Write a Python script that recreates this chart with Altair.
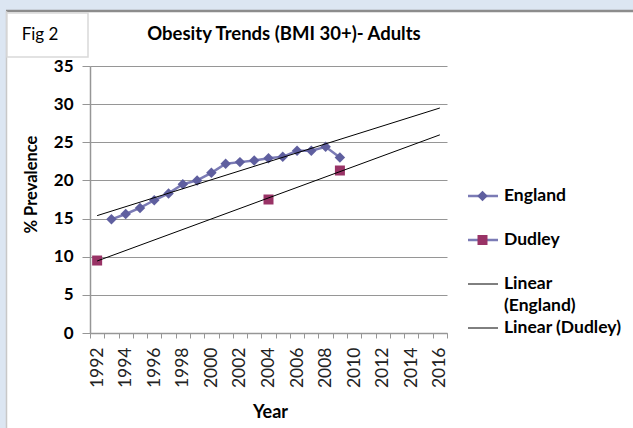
import altair as alt
import pandas as pd

# ---- data ----
eng_years = list(range(1993, 2010))
eng_values = [14.9, 15.6, 16.4, 17.4, 18.3, 19.5, 20.0, 21.0, 22.2, 22.4,
              22.6, 22.9, 23.1, 23.9, 23.9, 24.4, 23.0]
dud_years = [1992, 2004, 2009]
dud_values = [9.5, 17.5, 21.3]
trend_extent = [1992, 2016]
y_ticks = [0, 5, 10, 15, 20, 25, 30, 35]
x_bounds = [y - 0.5 for y in range(1992, 2018)]  # category boundaries

title_text = "Obesity Trends (BMI 30+)- Adults"
fig_text = "Fig 2"
legend_labels = ["England", "Dudley", "Linear", "(England)", "Linear (Dudley)"]

eng_df = pd.DataFrame({"year": eng_years, "value": eng_values})
dud_df = pd.DataFrame({"year": dud_years, "value": dud_values})
one = pd.DataFrame({"a": [0]})

FONT = "Lato"
GRID = "#969696"
ENG_LINE = "#7b7bb5"
ENG_PT = "#5f5f9f"
DUD = "#993366"
W, H = 357, 267
BAND = W / 25

x_scale = alt.Scale(domain=[1991.5, 2016.5], nice=False, zero=False)
y_scale = alt.Scale(domain=[0, 35], nice=False, zero=True)

x_axis = alt.Axis(
    values=x_bounds,
    labelExpr="(datum.value + 0.5) % 2 == 0 ? '' + (datum.value + 0.5) : ''",
    labelAngle=270, labelOffset=BAND / 2, labelFont=FONT, labelFontSize=17.5,
    labelColor="#222222", labelPadding=9, labelOverlap=False, labelFlush=False,
    tickSize=5, tickColor=GRID, tickWidth=1, domainColor=GRID, domainWidth=1.5,
    grid=False, title="Year", titleFont=FONT, titleFontSize=18,
    titleFontWeight="bold", titleColor="black", titleX=180, titleY=79,
    titleAlign="center", titleBaseline="middle",
)
y_axis = alt.Axis(
    values=y_ticks, grid=True, gridColor=GRID, gridWidth=1,
    tickSize=8, tickColor=GRID, domainColor=GRID, domainWidth=1.5,
    labelFont=FONT, labelFontSize=17, labelFontWeight="bold", labelColor="black",
    labelPadding=9, title="% Prevalence", titleFont=FONT, titleFontSize=16.5,
    titleFontWeight="bold", titleColor="black", titleX=-59, titleY=118,
    titleAngle=270, titleAlign="center", titleBaseline="middle",
)

X = alt.X("year:Q", scale=x_scale, axis=x_axis)
Y = alt.Y("value:Q", scale=y_scale, axis=y_axis)

eng_line = alt.Chart(eng_df).mark_line(color=ENG_LINE, strokeWidth=2.5).encode(x=X, y=Y)
eng_pts = alt.Chart(eng_df).mark_point(
    shape="diamond", filled=True, size=110, color=ENG_PT, opacity=1
).encode(x=X, y=Y)
dud_pts = alt.Chart(dud_df).mark_point(
    shape="square", filled=True, size=100, color=DUD, opacity=1
).encode(x=X, y=Y)
eng_trend = alt.Chart(eng_df).transform_regression(
    "year", "value", extent=trend_extent
).mark_line(color="black", strokeWidth=1).encode(x=X, y=Y)
dud_trend = alt.Chart(dud_df).transform_regression(
    "year", "value", extent=trend_extent
).mark_line(color="black", strokeWidth=1).encode(x=X, y=Y)

# ---- decorations (frame, title, legend) ----
def rect(x, x2, y, y2, **kw):
    return alt.Chart(one).mark_rect(**kw).encode(
        x=alt.value(x), x2=alt.value(x2), y=alt.value(y), y2=alt.value(y2))

def hrule(x, x2, y, **kw):
    return alt.Chart(one).mark_rule(**kw).encode(
        x=alt.value(x), x2=alt.value(x2), y=alt.value(y))

def txt(s, x, y, **kw):
    return alt.Chart(one).mark_text(font=FONT, color="black", **kw).encode(
        text=alt.value(s), x=alt.value(x), y=alt.value(y))

deco = [
    rect(-90, 543, -66, -55, color="#dce6f2"),
    rect(-90, -84, -66, 362, color="#dce6f2"),
    hrule(-84, 543, -55, color="#8c8c8c", strokeWidth=2.5),
    alt.Chart(one).mark_rule(color="#c8c8c8", strokeWidth=1.5).encode(
        x=alt.value(-83.5), y=alt.value(-55), y2=alt.value(362)),
    rect(-83, -2, -53, -9, fill="white", stroke="#d9d9d9", strokeWidth=1.5),
    txt(fig_text, -50, -31, fontSize=17, align="center", baseline="middle"),
    txt(title_text, 194, -32, fontSize=18.5, fontWeight="bold", align="center", baseline="middle"),
]

LX1, LX2, LSYM, LTX = 378, 408, 392.5, 414
rows = [130, 174, 218, 240, 262]
legend = [
    hrule(LX1, LX2, rows[0], color=ENG_LINE, strokeWidth=2.5),
    alt.Chart(one).mark_point(shape="diamond", filled=True, size=110, color=ENG_PT, opacity=1).encode(
        x=alt.value(LSYM), y=alt.value(rows[0])),
    hrule(LX1, LX2, rows[1], color=ENG_LINE, strokeWidth=2.5),
    alt.Chart(one).mark_point(shape="square", filled=True, size=100, color=DUD, opacity=1).encode(
        x=alt.value(LSYM), y=alt.value(rows[1])),
    hrule(LX1, LX2, rows[2], color="black", strokeWidth=1),
    hrule(LX1, LX2, rows[4], color="black", strokeWidth=1),
]
for lab, ry in zip(legend_labels, rows):
    legend.append(txt(lab, LTX, ry, fontSize=17.5, fontWeight="bold", align="left", baseline="middle"))

chart = alt.layer(
    *deco, eng_line, eng_pts, dud_pts, eng_trend, dud_trend, *legend
).properties(
    width=W, height=H,
    autosize=alt.AutoSizeParams(type="none"),
    padding={"left": 90, "top": 66, "right": 186, "bottom": 95},
    background="white",
).configure_view(stroke=None)

chart.save("out.html", embed_options={"renderer": "svg", "actions": False})
